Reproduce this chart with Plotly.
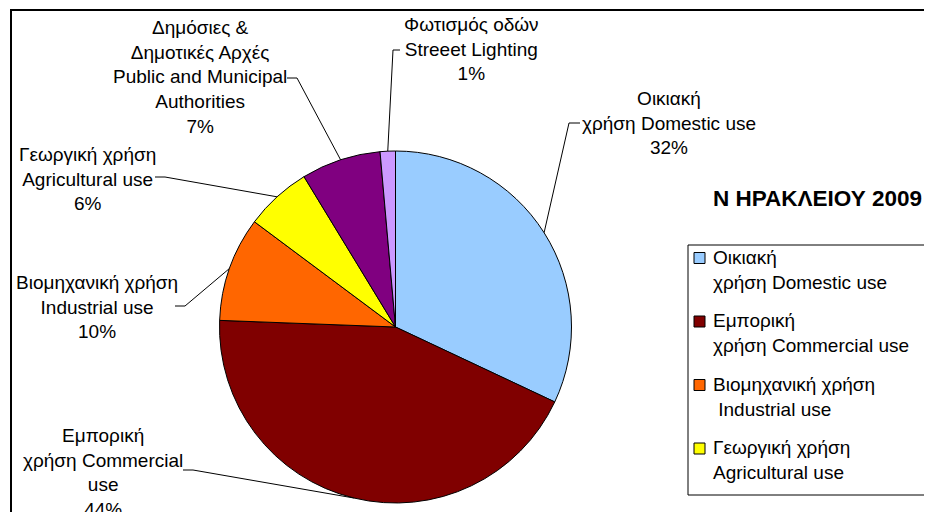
import math
import plotly.graph_objects as go

# the page body adds an 8px margin, so the figure is drawn a little smaller
# and every layout position below is given in window pixels
OFF = 8
W, H = 932 - OFF, 512 - OFF

# data (share of electricity consumption, %)
categories = ['Οικιακή<br>χρήση Domestic use',
              'Εμπορική<br>χρήση Commercial use',
              'Βιομηχανική χρήση<br>\u00a0Industrial use',
              'Γεωργική χρήση<br>Agricultural use',
              'Δημόσιες & Δημοτικές Αρχές Public and Municipal Authorities',
              'Φωτισμός οδών Streeet Lighting']
slice_labels = ['Οικιακή<br>χρήση Domestic use',
                'Εμπορική<br>χρήση Commercial<br>use',
                'Βιομηχανική χρήση<br>Industrial use',
                'Γεωργική χρήση<br>Agricultural use',
                'Δημόσιες &<br>Δημοτικές Αρχές<br>Public and Municipal<br>Authorities',
                'Φωτισμός οδών<br>Streeet Lighting']
values = [32.0, 43.6, 9.6, 6.1, 7.3, 1.4]
colors = ['#99CCFF', '#800000', '#FF6600', '#FFFF00', '#800080', '#CC99FF']
legend_count = 4  # only four entries fit in the original legend box

FONT = 'Liberation Sans, Arial, sans-serif'


def px(x):
    return (x - OFF) / W


def py(y):
    return 1 - (y - OFF) / H


# pie box in window pixels
pie_l, pie_r, pie_t, pie_b = 219.5, 571.5, 151, 503
cx, cy = (pie_l + pie_r) / 2, (pie_t + pie_b) / 2
R = min(pie_r - pie_l, pie_b - pie_t) / 2

fig = go.Figure()
fig.add_trace(go.Pie(
    labels=categories, values=values, sort=False, direction='clockwise',
    rotation=0, textinfo='none', showlegend=False,
    marker=dict(colors=colors, line=dict(color='black', width=1)),
    domain=dict(x=[px(pie_l), px(pie_r)], y=[py(pie_b), py(pie_t)]),
))

# label placement (centre of text block) and leader elbow (text end, bend)
label_pos = [(669, 123.5), (103, 472.5), (97, 306.5), (87, 178.5), (200, 77.5), (471, 49)]
elbows = [((580, 123), (569, 123)),
          ((183, 470), (193, 470)),
          ((175, 306), (185, 306)),
          ((155, 177), (165, 177)),
          ((287, 78), (297, 78)),
          ((400, 50), (393, 50))]

total = sum(values)
annotations = []
shapes = []
cum = 0
for i, v in enumerate(values):
    mid = (cum + v / 2) / total * 2 * math.pi
    cum += v
    ax_, ay_ = cx + R * math.sin(mid), cy - R * math.cos(mid)
    pct = f'{round(v / total * 100)}%'
    lx, ly = label_pos[i]
    annotations.append(dict(
        x=px(lx), y=py(ly), xref='paper', yref='paper', showarrow=False,
        text=slice_labels[i] + '<br>' + pct, align='center',
        xanchor='center', yanchor='middle',
        font=dict(family=FONT, size=19, color='black')))
    (x0, y0), (x1, y1) = elbows[i]
    shapes.append(dict(
        type='path', xref='paper', yref='paper',
        path=f'M {px(x0)},{py(y0)} L {px(x1)},{py(y1)} L {px(ax_)},{py(ay_)}',
        line=dict(color='black', width=1)))

# chart frame (cut off on right and bottom in the original)
shapes.append(dict(type='rect', xref='paper', yref='paper',
                   x0=px(11), y0=-0.05, x1=1.05, y1=py(10),
                   line=dict(color='black', width=2), layer='below'))

# title
annotations.append(dict(
    x=px(817), y=py(198), xref='paper', yref='paper', showarrow=False,
    text='<b>Ν ΗΡΑΚΛΕΙΟΥ 2009</b>', xanchor='center', yanchor='middle',
    font=dict(family=FONT, size=22.5, color='black')))

# legend drawn by hand
shapes.append(dict(type='rect', xref='paper', yref='paper',
                   x0=px(688), y0=py(495), x1=1.05, y1=py(245),
                   line=dict(color='black', width=1)))
for i in range(legend_count):
    y_first = 258 + i * 63.5
    shapes.append(dict(type='rect', xref='paper', yref='paper',
                       x0=px(694), x1=px(705), y0=py(y_first + 5.5), y1=py(y_first - 5.5),
                       fillcolor=colors[i], line=dict(color='black', width=1)))
    annotations.append(dict(
        x=px(711), y=py(y_first + 11.5), xref='paper', yref='paper', showarrow=False,
        text=categories[i], align='left', xanchor='left', yanchor='middle',
        font=dict(family=FONT, size=19, color='black')))

fig.update_layout(
    width=W, height=H, autosize=False,
    margin=dict(l=0, r=0, t=0, b=0, pad=0),
    paper_bgcolor='white', plot_bgcolor='white',
    annotations=annotations, shapes=shapes,
)

fig.write_html("out.html")
